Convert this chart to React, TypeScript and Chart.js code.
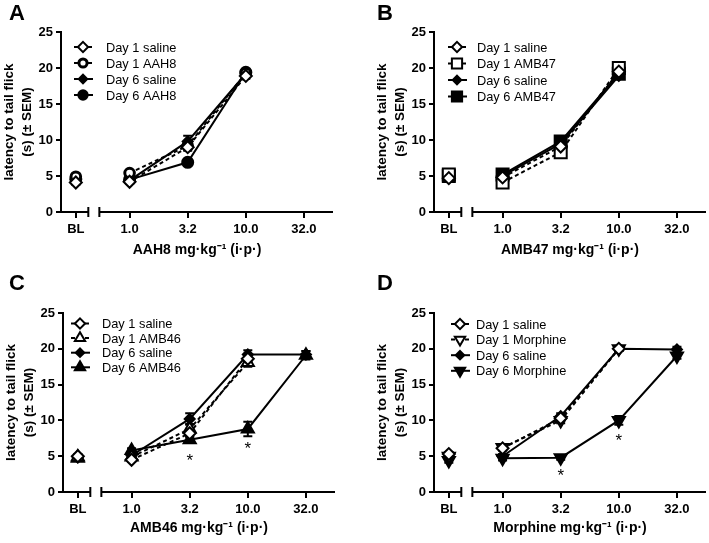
import React, { useEffect, useRef } from 'react';
import { Chart, registerables } from 'chart.js';

Chart.register(...registerables);

const FONT = "'Liberation Sans', Arial, Helvetica, sans-serif";

// ---------- data ----------
const doseLabels = ['BL', '1.0', '3.2', '10.0', '32.0'];

// Panel A – AAH8
const aD1Saline = [4.1, 4.2, 9.0, 18.9, null];
const aD1AAH8 = [4.9, 5.4, 9.2, 19.3, null];
const aD6Saline = [4.5, 4.4, 9.8, 19.2, null];
const aD6AAH8 = [4.6, 4.5, 6.9, 19.4, null];
const aD1SalineSem = [0.3, 0.3, 0.5, 0.4, null];
const aD1AAH8Sem = [0.3, 0.3, 0.5, 0.3, null];
const aD6SalineSem = [0.3, 0.3, 0.8, 0.3, null];
const aD6AAH8Sem = [0.3, 0.3, 0.4, 0.3, null];

// Panel B – AMB47
const bD1Saline = [4.7, 4.8, 9.1, 19.5, null];
const bD1AMB47 = [5.2, 4.1, 8.3, 20.0, null];
const bD6Saline = [4.8, 5.0, 9.5, 18.9, null];
const bD6AMB47 = [5.0, 5.2, 9.8, 19.2, null];
const bD1SalineSem = [0.3, 0.3, 0.4, 0.4, null];
const bD1AMB47Sem = [0.4, 0.4, 0.5, 0.3, null];
const bD6SalineSem = [0.3, 0.3, 0.4, 0.4, null];
const bD6AMB47Sem = [0.3, 0.3, 0.5, 0.3, null];

// Panel C – AMB46
const cD1Saline = [5.0, 4.5, 8.2, 18.6, null];
const cD1AMB46 = [4.9, 4.9, 8.8, 18.1, null];
const cD6Saline = [4.8, 5.1, 10.2, 19.2, 19.2];
const cD6AMB46 = [4.7, 5.8, 7.3, 8.8, 19.1];
const cD1SalineSem = [0.3, 0.3, 0.5, 0.4, null];
const cD1AMB46Sem = [0.3, 0.3, 0.7, 0.6, null];
const cD6SalineSem = [0.3, 0.3, 0.8, 0.6, 0.5];
const cD6AMB46Sem = [0.3, 0.3, 0.4, 1.0, 0.6];
const cStars = [null, null, 4.9, 6.5, null];

// Panel D – Morphine
const dD1Saline = [5.3, 6.1, 10.3, 20.0, null];
const dD1Morphine = [5.0, 6.2, 10.0, 20.0, null];
const dD6Saline = [4.9, 5.0, 10.6, 20.0, 19.9];
const dD6Morphine = [4.4, 4.7, 4.8, 10.0, 19.0];
const dD1SalineSem = [0.3, 0.3, 0.4, 0.3, null];
const dD1MorphineSem = [0.3, 0.3, 0.4, 0.3, null];
const dD6SalineSem = [0.3, 0.3, 0.4, 0.3, 0.4];
const dD6MorphineSem = [0.3, 0.3, 0.3, 0.6, 0.4];
const dStars = [null, null, 2.8, 7.7, null];

// ---------- layout constants ----------
const X_MIN = -0.18;
const X_MAX = 4.5;
const BL_POS = 0.075;
const BREAK_END = 0.29;
const BREAK_START = 0.48;
const Y_W = 61;
const xPos = (i: number) => (i === 0 ? BL_POS : i);

type Series = {
  label: string;
  data: (number | null)[];
  sem: (number | null)[];
  style: string;
  r: number;
  rot?: number;
  open: boolean;
  dashed: boolean;
  bw: number;
};

type Panel = {
  letter: string;
  box: { left: number; top: number; w: number; h: number };
  area: { left: number; top: number; bottom: number; width: number };
  xTitle: string;
  titlePadBottom: number;
  legend: { mx: number; tx: number; y0: number; dy: number; font: number };
  stars: (number | null)[] | null;
  series: Series[];
};

const mk = (
  label: string,
  data: (number | null)[],
  sem: (number | null)[],
  style: string,
  r: number,
  open: boolean,
  dashed: boolean,
  rot = 0,
  bw = 2
): Series => ({ label, data, sem, style, r, open, dashed, rot, bw });

const panels: Panel[] = [
  {
    letter: 'A',
    box: { left: 0, top: 0, w: 354, h: 270 },
    area: { left: 61, top: 32, bottom: 212, width: 272 },
    xTitle: 'AAH8 mg·kg⁻¹ (i·p·)',
    titlePadBottom: 11,
    legend: { mx: 22, tx: 45, y0: 15, dy: 16, font: 12.8 },
    stars: null,
    series: [
      mk('Day 1 saline', aD1Saline, aD1SalineSem, 'rectRot', 6, true, true),
      mk('Day 1 AAH8', aD1AAH8, aD1AAH8Sem, 'circle', 4.8, true, true, 0, 3),
      mk('Day 6 saline', aD6Saline, aD6SalineSem, 'rectRot', 5, false, false),
      mk('Day 6 AAH8', aD6AAH8, aD6AAH8Sem, 'circle', 5.5, false, false),
    ],
  },
  {
    letter: 'B',
    box: { left: 355, top: 0, w: 354, h: 270 },
    area: { left: 79, top: 32, bottom: 212, width: 272 },
    xTitle: 'AMB47 mg·kg⁻¹ (i·p·)',
    titlePadBottom: 11,
    legend: { mx: 23, tx: 43, y0: 15, dy: 16.5, font: 12.8 },
    stars: null,
    series: [
      mk('Day 1 saline', bD1Saline, bD1SalineSem, 'rectRot', 6, true, true),
      mk('Day 1 AMB47', bD1AMB47, bD1AMB47Sem, 'rect', 8.5, true, true),
      mk('Day 6 saline', bD6Saline, bD6SalineSem, 'rectRot', 5, false, false),
      mk('Day 6 AMB47', bD6AMB47, bD6AMB47Sem, 'rect', 8.5, false, false),
    ],
  },
  {
    letter: 'C',
    box: { left: 0, top: 270, w: 354, h: 273 },
    area: { left: 63, top: 43, bottom: 222, width: 272 },
    xTitle: 'AMB46 mg·kg⁻¹ (i·p·)',
    titlePadBottom: 6,
    legend: { mx: 17, tx: 39, y0: 10.5, dy: 14.6, font: 12.8 },
    stars: cStars,
    series: [
      mk('Day 1 saline', cD1Saline, cD1SalineSem, 'rectRot', 6, true, true),
      mk('Day 1 AMB46', cD1AMB46, cD1AMB46Sem, 'triangle', 7, true, true),
      mk('Day 6 saline', cD6Saline, cD6SalineSem, 'rectRot', 5, false, false),
      mk('Day 6 AMB46', cD6AMB46, cD6AMB46Sem, 'triangle', 7, false, false),
    ],
  },
  {
    letter: 'D',
    box: { left: 355, top: 270, w: 354, h: 273 },
    area: { left: 79, top: 43, bottom: 222, width: 272 },
    xTitle: 'Morphine mg·kg⁻¹ (i·p·)',
    titlePadBottom: 6,
    legend: { mx: 26, tx: 42, y0: 11, dy: 15.6, font: 12.8 },
    stars: dStars,
    series: [
      mk('Day 1 saline', dD1Saline, dD1SalineSem, 'rectRot', 6, true, true),
      mk('Day 1 Morphine', dD1Morphine, dD1MorphineSem, 'triangle', 7, true, true, 180),
      mk('Day 6 saline', dD6Saline, dD6SalineSem, 'rectRot', 5, false, false),
      mk('Day 6 Morphine', dD6Morphine, dD6MorphineSem, 'triangle', 7, false, false, 180),
    ],
  },
];

// ---------- drawing helpers ----------
function drawMarker(
  ctx: CanvasRenderingContext2D,
  style: string,
  x: number,
  y: number,
  r: number,
  rot: number,
  fill: string,
  bw: number
) {
  ctx.save();
  ctx.translate(x, y);
  ctx.rotate((rot * Math.PI) / 180);
  ctx.beginPath();
  if (style === 'circle') {
    ctx.arc(0, 0, r, 0, Math.PI * 2);
  } else if (style === 'rectRot') {
    ctx.moveTo(0, -r);
    ctx.lineTo(r, 0);
    ctx.lineTo(0, r);
    ctx.lineTo(-r, 0);
    ctx.closePath();
  } else if (style === 'rect') {
    const s = r * Math.SQRT1_2;
    ctx.rect(-s, -s, 2 * s, 2 * s);
  } else {
    for (let k = 0; k < 3; k++) {
      const a = (k * 2 * Math.PI) / 3;
      const px = Math.sin(a) * r;
      const py = -Math.cos(a) * r;
      if (k === 0) ctx.moveTo(px, py);
      else ctx.lineTo(px, py);
    }
    ctx.closePath();
  }
  ctx.fillStyle = fill;
  ctx.fill();
  ctx.lineWidth = bw;
  ctx.strokeStyle = '#000';
  ctx.setLineDash([]);
  ctx.stroke();
  ctx.restore();
}

function makeDecor(panel: Panel) {
  return {
    id: 'decor' + panel.letter,
    beforeDatasetsDraw(chart: any) {
      const { ctx, chartArea } = chart;
      const x = chart.scales.x;
      const y = chart.scales.y;
      ctx.save();
      ctx.strokeStyle = '#000';
      ctx.lineWidth = 2;
      ctx.setLineDash([]);
      const yb = chartArea.bottom;
      const s1 = x.getPixelForValue(BREAK_END);
      const s2 = x.getPixelForValue(BREAK_START);
      ctx.beginPath();
      ctx.moveTo(chartArea.left - 1, yb);
      ctx.lineTo(s1, yb);
      ctx.moveTo(s2, yb);
      ctx.lineTo(chartArea.right, yb);
      ctx.moveTo(s1, yb - 5);
      ctx.lineTo(s1, yb + 5);
      ctx.moveTo(s2, yb - 5);
      ctx.lineTo(s2, yb + 5);
      ctx.stroke();

      // error bars
      ctx.lineWidth = 2;
      panel.series.forEach((s) => {
        s.data.forEach((v, j) => {
          const e = s.sem[j];
          if (v == null || e == null) return;
          const px = x.getPixelForValue(xPos(j));
          const yt = y.getPixelForValue(v + e);
          const ybt = y.getPixelForValue(v - e);
          ctx.beginPath();
          ctx.moveTo(px, yt);
          ctx.lineTo(px, ybt);
          ctx.moveTo(px - 4.5, yt);
          ctx.lineTo(px + 4.5, yt);
          ctx.moveTo(px - 4.5, ybt);
          ctx.lineTo(px + 4.5, ybt);
          ctx.stroke();
        });
      });
      ctx.restore();
    },
    afterDatasetsDraw(chart: any) {
      const { ctx, chartArea } = chart;
      const x = chart.scales.x;
      const y = chart.scales.y;
      ctx.save();
      // legend
      const L = panel.legend;
      ctx.font = `${L.font}px ${FONT}`;
      ctx.textBaseline = 'middle';
      ctx.textAlign = 'left';
      ctx.fillStyle = '#000';
      panel.series.forEach((s, i) => {
        const cy = chartArea.top + L.y0 + i * L.dy;
        const mx = chartArea.left + L.mx;
        ctx.beginPath();
        ctx.strokeStyle = '#000';
        ctx.lineWidth = 2;
        ctx.setLineDash(s.dashed ? [4, 3] : []);
        ctx.moveTo(mx - 9, cy);
        ctx.lineTo(mx + 10, cy);
        ctx.stroke();
        ctx.setLineDash([]);
        drawMarker(ctx, s.style, mx, cy, s.r * 0.85, s.rot || 0, s.open ? '#fff' : '#000', s.bw);
        ctx.fillStyle = '#000';
        ctx.fillText(s.label, chartArea.left + L.tx, cy + 1);
      });
      // significance stars
      if (panel.stars) {
        ctx.font = `17px ${FONT}`;
        ctx.textAlign = 'center';
        ctx.textBaseline = 'alphabetic';
        panel.stars.forEach((v, j) => {
          if (v == null) return;
          const px = x.getPixelForValue(xPos(j));
          const py = y.getPixelForValue(v);
          ctx.fillText('*', px, py + 9);
        });
      }
      // panel letter
      ctx.font = `bold 22px ${FONT}`;
      ctx.textAlign = 'left';
      ctx.textBaseline = 'alphabetic';
      const lx = panel.letter === 'A' || panel.letter === 'C' ? 9 : 22;
      ctx.fillText(panel.letter, lx, 20);
      ctx.restore();
    },
  };
}

function buildConfig(panel: Panel): any {
  const datasets = panel.series.map((s) => ({
    label: s.label,
    data: s.data.map((v, i) => ({ x: xPos(i), y: v })),
    borderColor: '#000',
    borderWidth: 2,
    borderDash: s.dashed ? [4, 3] : [],
    pointStyle: s.style,
    pointRadius: s.r,
    pointHoverRadius: s.r,
    pointRotation: s.rot || 0,
    pointBackgroundColor: s.open ? '#fff' : '#000',
    pointBorderColor: '#000',
    pointBorderWidth: s.bw,
    fill: false,
    tension: 0,
    spanGaps: false,
    segment: {
      borderColor: (c: any) => (c.p0DataIndex === 0 ? 'rgba(0,0,0,0)' : '#000'),
    },
  }));
  const padLeft = panel.area.left - Y_W;
  const padRight = panel.box.w - panel.area.left - panel.area.width;
  const xH = panel.box.h - panel.area.bottom;
  return {
    type: 'line',
    data: { datasets },
    plugins: [makeDecor(panel)],
    options: {
      animation: false,
      responsive: false,
      maintainAspectRatio: false,
      devicePixelRatio: 1,
      events: [],
      layout: {
        autoPadding: false,
        padding: { left: padLeft, right: padRight, top: panel.area.top, bottom: 0 },
      },
      plugins: {
        legend: { display: false },
        title: { display: false },
        tooltip: { enabled: false },
      },
      scales: {
        x: {
          type: 'linear',
          min: X_MIN,
          max: X_MAX,
          afterFit: (s: any) => {
            s.height = xH;
          },
          afterBuildTicks: (s: any) => {
            s.ticks = doseLabels.map((_, i) => ({ value: xPos(i) }));
          },
          border: { display: false },
          grid: {
            drawOnChartArea: false,
            drawTicks: true,
            tickLength: 6,
            tickWidth: 2,
            tickColor: '#000',
            color: '#000',
            lineWidth: 2,
          },
          ticks: {
            autoSkip: false,
            maxRotation: 0,
            padding: 4,
            color: '#000',
            font: { family: FONT, size: 13, weight: 'bold' },
            callback: (_v: any, i: number) => doseLabels[i],
          },
          title: {
            display: true,
            text: panel.xTitle,
            color: '#000',
            font: { family: FONT, size: 14, weight: 'bold', lineHeight: 1.2 },
            padding: { top: 0, bottom: panel.titlePadBottom },
          },
        },
        y: {
          type: 'linear',
          min: 0,
          max: 25,
          afterFit: (s: any) => {
            s.width = Y_W;
          },
          border: { display: true, color: '#000', width: 2 },
          grid: {
            drawOnChartArea: false,
            drawTicks: true,
            tickLength: 5,
            tickWidth: 2,
            tickColor: '#000',
            color: '#000',
            lineWidth: 2,
          },
          ticks: {
            stepSize: 5,
            padding: 3,
            color: '#000',
            font: { family: FONT, size: 13, weight: 'bold' },
          },
          title: {
            display: true,
            text: ['latency to tail flick', '(s) (± SEM)'],
            color: '#000',
            font: { family: FONT, size: 13.5, weight: 'bold', lineHeight: 1.28 },
            padding: { top: 1, bottom: 0 },
          },
        },
      },
    },
  };
}

function PanelChart({ panel }: { panel: Panel }) {
  const ref = useRef<HTMLCanvasElement>(null);
  useEffect(() => {
    const chart = new Chart(ref.current as HTMLCanvasElement, buildConfig(panel));
    return () => chart.destroy();
  }, [panel]);
  return (
    <canvas
      ref={ref}
      width={panel.box.w}
      height={panel.box.h}
      style={{
        position: 'absolute',
        left: panel.box.left,
        top: panel.box.top,
        width: panel.box.w,
        height: panel.box.h,
      }}
    />
  );
}

export default function App() {
  return (
    <div
      style={{
        position: 'absolute',
        left: 0,
        top: 0,
        width: 709,
        height: 543,
        background: '#fff',
        overflow: 'hidden',
      }}
    >
      {panels.map((p) => (
        <PanelChart key={p.letter} panel={p} />
      ))}
    </div>
  );
}
